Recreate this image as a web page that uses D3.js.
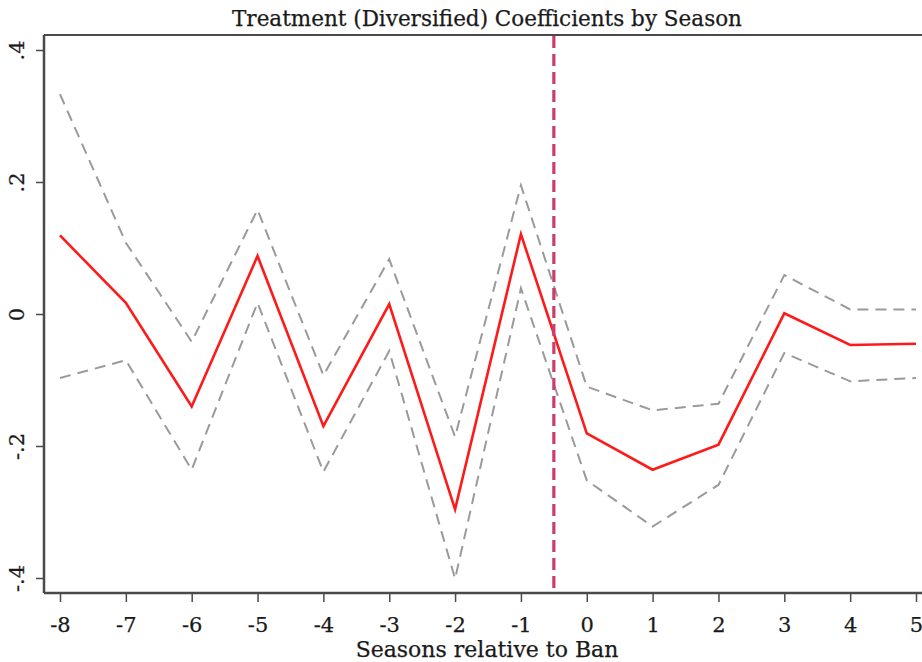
<!DOCTYPE html>
<html>
<head>
<meta charset="utf-8">
<script src="https://cdn.jsdelivr.net/npm/d3@7"></script>
<style>
  html, body { margin: 0; padding: 0; background: #fff; }
  svg { display: block; }
  text { font-family: "DejaVu Serif", "Liberation Serif", serif; fill: #1a1a1a; stroke: #1a1a1a; stroke-width: 0.25px; }
</style>
</head>
<body>
<svg id="chart" width="922" height="662"></svg>
<script>
// Event-study coefficients by season relative to the ban
const seasons = [-8, -7, -6, -5, -4, -3, -2, -1, 0, 1, 2, 3, 4, 5];
const coef    = [0.119, 0.017, -0.140, 0.088, -0.170, 0.015, -0.296, 0.121, -0.181, -0.236, -0.198, 0.001, -0.047, -0.045];
const upperCI = [0.333, 0.108, -0.042, 0.158, -0.093, 0.083, -0.186, 0.195, -0.110, -0.146, -0.136, 0.059, 0.007, 0.007];
const lowerCI = [-0.097, -0.070, -0.236, 0.017, -0.239, -0.056, -0.401, 0.039, -0.252, -0.322, -0.259, -0.059, -0.102, -0.097];
const yTicks = [-0.4, -0.2, 0, 0.2, 0.4];
const yTickLabels = ["-.4", "-.2", "0", ".2", ".4"];
const banLine = -0.5;
const titleText = "Treatment (Diversified) Coefficients by Season";
const xTitleText = "Seasons relative to Ban";

const svg = d3.select("#chart");
const frame = { left: 44, right: 922, top: 35, bottom: 593 };

const x = d3.scaleLinear().domain([-8, 5]).range([60, 916]);
const y = d3.scaleLinear().domain([-0.4, 0.4]).range([578, 50]);

const axisColor = "#4a4a4a";

// Plot frame: top rule
svg.append("line")
  .attr("x1", frame.left).attr("x2", frame.right)
  .attr("y1", frame.top).attr("y2", frame.top)
  .attr("stroke", axisColor).attr("stroke-width", 2);

// Y axis
const yAxis = d3.axisLeft(y).tickValues(yTicks).tickSize(8).tickPadding(6)
  .tickFormat((d, i) => yTickLabels[i]);
const gy = svg.append("g").attr("transform", `translate(${frame.left},0)`).call(yAxis);
gy.select(".domain").remove();
gy.selectAll(".tick line").attr("stroke", axisColor).attr("stroke-width", 1.5);
gy.selectAll(".tick text")
  .attr("x", null).attr("dy", null)
  .attr("text-anchor", "middle")
  .attr("transform", "translate(-20,0) rotate(-90)")
  .style("font-size", "21px")
  .style("font-family", "'DejaVu Serif', serif")
  .attr("fill", "#1a1a1a");
svg.append("line")
  .attr("x1", frame.left).attr("x2", frame.left)
  .attr("y1", frame.top).attr("y2", frame.bottom)
  .attr("stroke", axisColor).attr("stroke-width", 2.5);

// X axis
const xAxis = d3.axisBottom(x).tickValues(seasons).tickSize(9).tickPadding(15)
  .tickFormat(d3.format("d"));
const gx = svg.append("g").attr("transform", `translate(0,${frame.bottom})`).call(xAxis);
gx.select(".domain").remove();
gx.selectAll(".tick line").attr("stroke", axisColor).attr("stroke-width", 1.5);
gx.selectAll(".tick text")
  .text(d => d < 0 ? "-" + Math.abs(d) : String(d))
  .style("font-size", "21px")
  .style("font-family", "'DejaVu Serif', serif")
  .attr("fill", "#1a1a1a");
svg.append("line")
  .attr("x1", frame.left).attr("x2", frame.right)
  .attr("y1", frame.bottom).attr("y2", frame.bottom)
  .attr("stroke", axisColor).attr("stroke-width", 2.5);

// Confidence bands
const line = (vals) => d3.line().x((d, i) => x(seasons[i])).y(d => y(d))(vals);
[upperCI, lowerCI].forEach(ci => {
  svg.append("path")
    .attr("d", line(ci))
    .attr("fill", "none")
    .attr("stroke", "#9a9a9a")
    .attr("stroke-width", 2)
    .attr("stroke-dasharray", "11,7");
});

// Point estimates
svg.append("path")
  .attr("d", line(coef))
  .attr("fill", "none")
  .attr("stroke", "#ff1a1a")
  .attr("stroke-width", 2.6)
  .attr("stroke-linejoin", "miter");

// Ban marker
svg.append("line")
  .attr("x1", x(banLine)).attr("x2", x(banLine))
  .attr("y1", frame.top + 1).attr("y2", frame.bottom - 1)
  .attr("stroke", "#cc3d6a")
  .attr("stroke-width", 3.2)
  .attr("stroke-dasharray", "12,6");

// Titles
svg.append("text")
  .attr("x", 487).attr("y", 26)
  .attr("text-anchor", "middle")
  .style("font-size", "21.5px")
  .text(titleText);

svg.append("text")
  .attr("x", 487).attr("y", 657)
  .attr("text-anchor", "middle")
  .style("font-size", "22px")
  .text(xTitleText);
</script>
</body>
</html>
